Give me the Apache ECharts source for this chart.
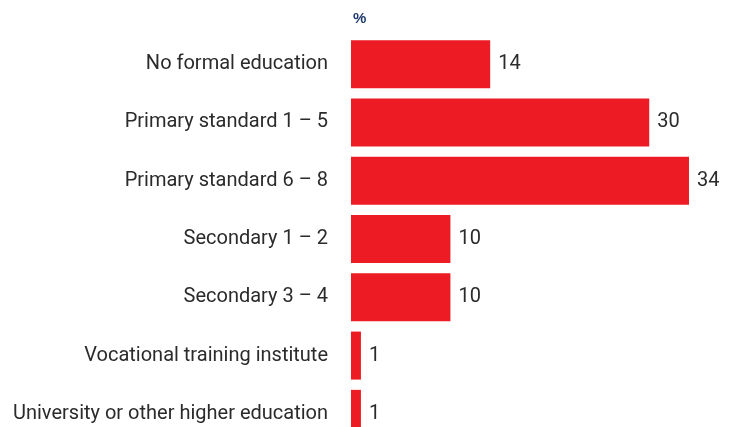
<!DOCTYPE html>
<html>
<head>
<meta charset="utf-8">
<script src="https://cdn.jsdelivr.net/npm/echarts@6/dist/echarts.min.js"></script>
<style>
  html, body { margin: 0; padding: 0; background: #fff; overflow: hidden; }
  /* the last row runs past the bottom edge of the window */
  #chart { width: 740px; height: 444px; }
</style>
</head>
<body>
<div id="chart"></div>
<script>
// Highest level of education attained (%)
const categories = [
  'No formal education',
  'Primary standard 1 \u2013 5',
  'Primary standard 6 \u2013 8',
  'Secondary 1 \u2013 2',
  'Secondary 3 \u2013 4',
  'Vocational training institute',
  'University or other higher education'
];
const values = [14, 30, 34, 10, 10, 1, 1];
const unitLabel = '%';

const FONT = "'Liberation Sans Narrow', 'Arial Narrow', 'Roboto', sans-serif";

const chart = echarts.init(document.getElementById('chart'), null, { renderer: 'canvas' });
chart.setOption({
  animation: false,
  backgroundColor: '#ffffff',
  title: {
    text: unitLabel,
    left: 348,
    top: 6,
    textStyle: { color: '#1f3a6e', fontSize: 15, fontWeight: 'bold', fontFamily: 'Liberation Sans, Arial, sans-serif' }
  },
  grid: { left: 351, top: 35, width: 338, height: 408, containLabel: false },
  xAxis: {
    type: 'value',
    min: 0,
    max: 34,
    show: false
  },
  yAxis: {
    type: 'category',
    data: categories,
    inverse: true,
    axisLine: { show: false },
    axisTick: { show: false },
    splitLine: { show: false },
    axisLabel: {
      margin: 23,
      color: '#2b2b2b',
      fontSize: 20,
      fontFamily: FONT
    }
  },
  series: [{
    type: 'bar',
    data: values,
    barWidth: 48,
    itemStyle: { color: '#ed1c24' },
    label: {
      show: true,
      position: 'right',
      distance: 8,
      color: '#2b2b2b',
      fontSize: 20,
      fontFamily: FONT
    }
  }]
});
</script>
</body>
</html>
